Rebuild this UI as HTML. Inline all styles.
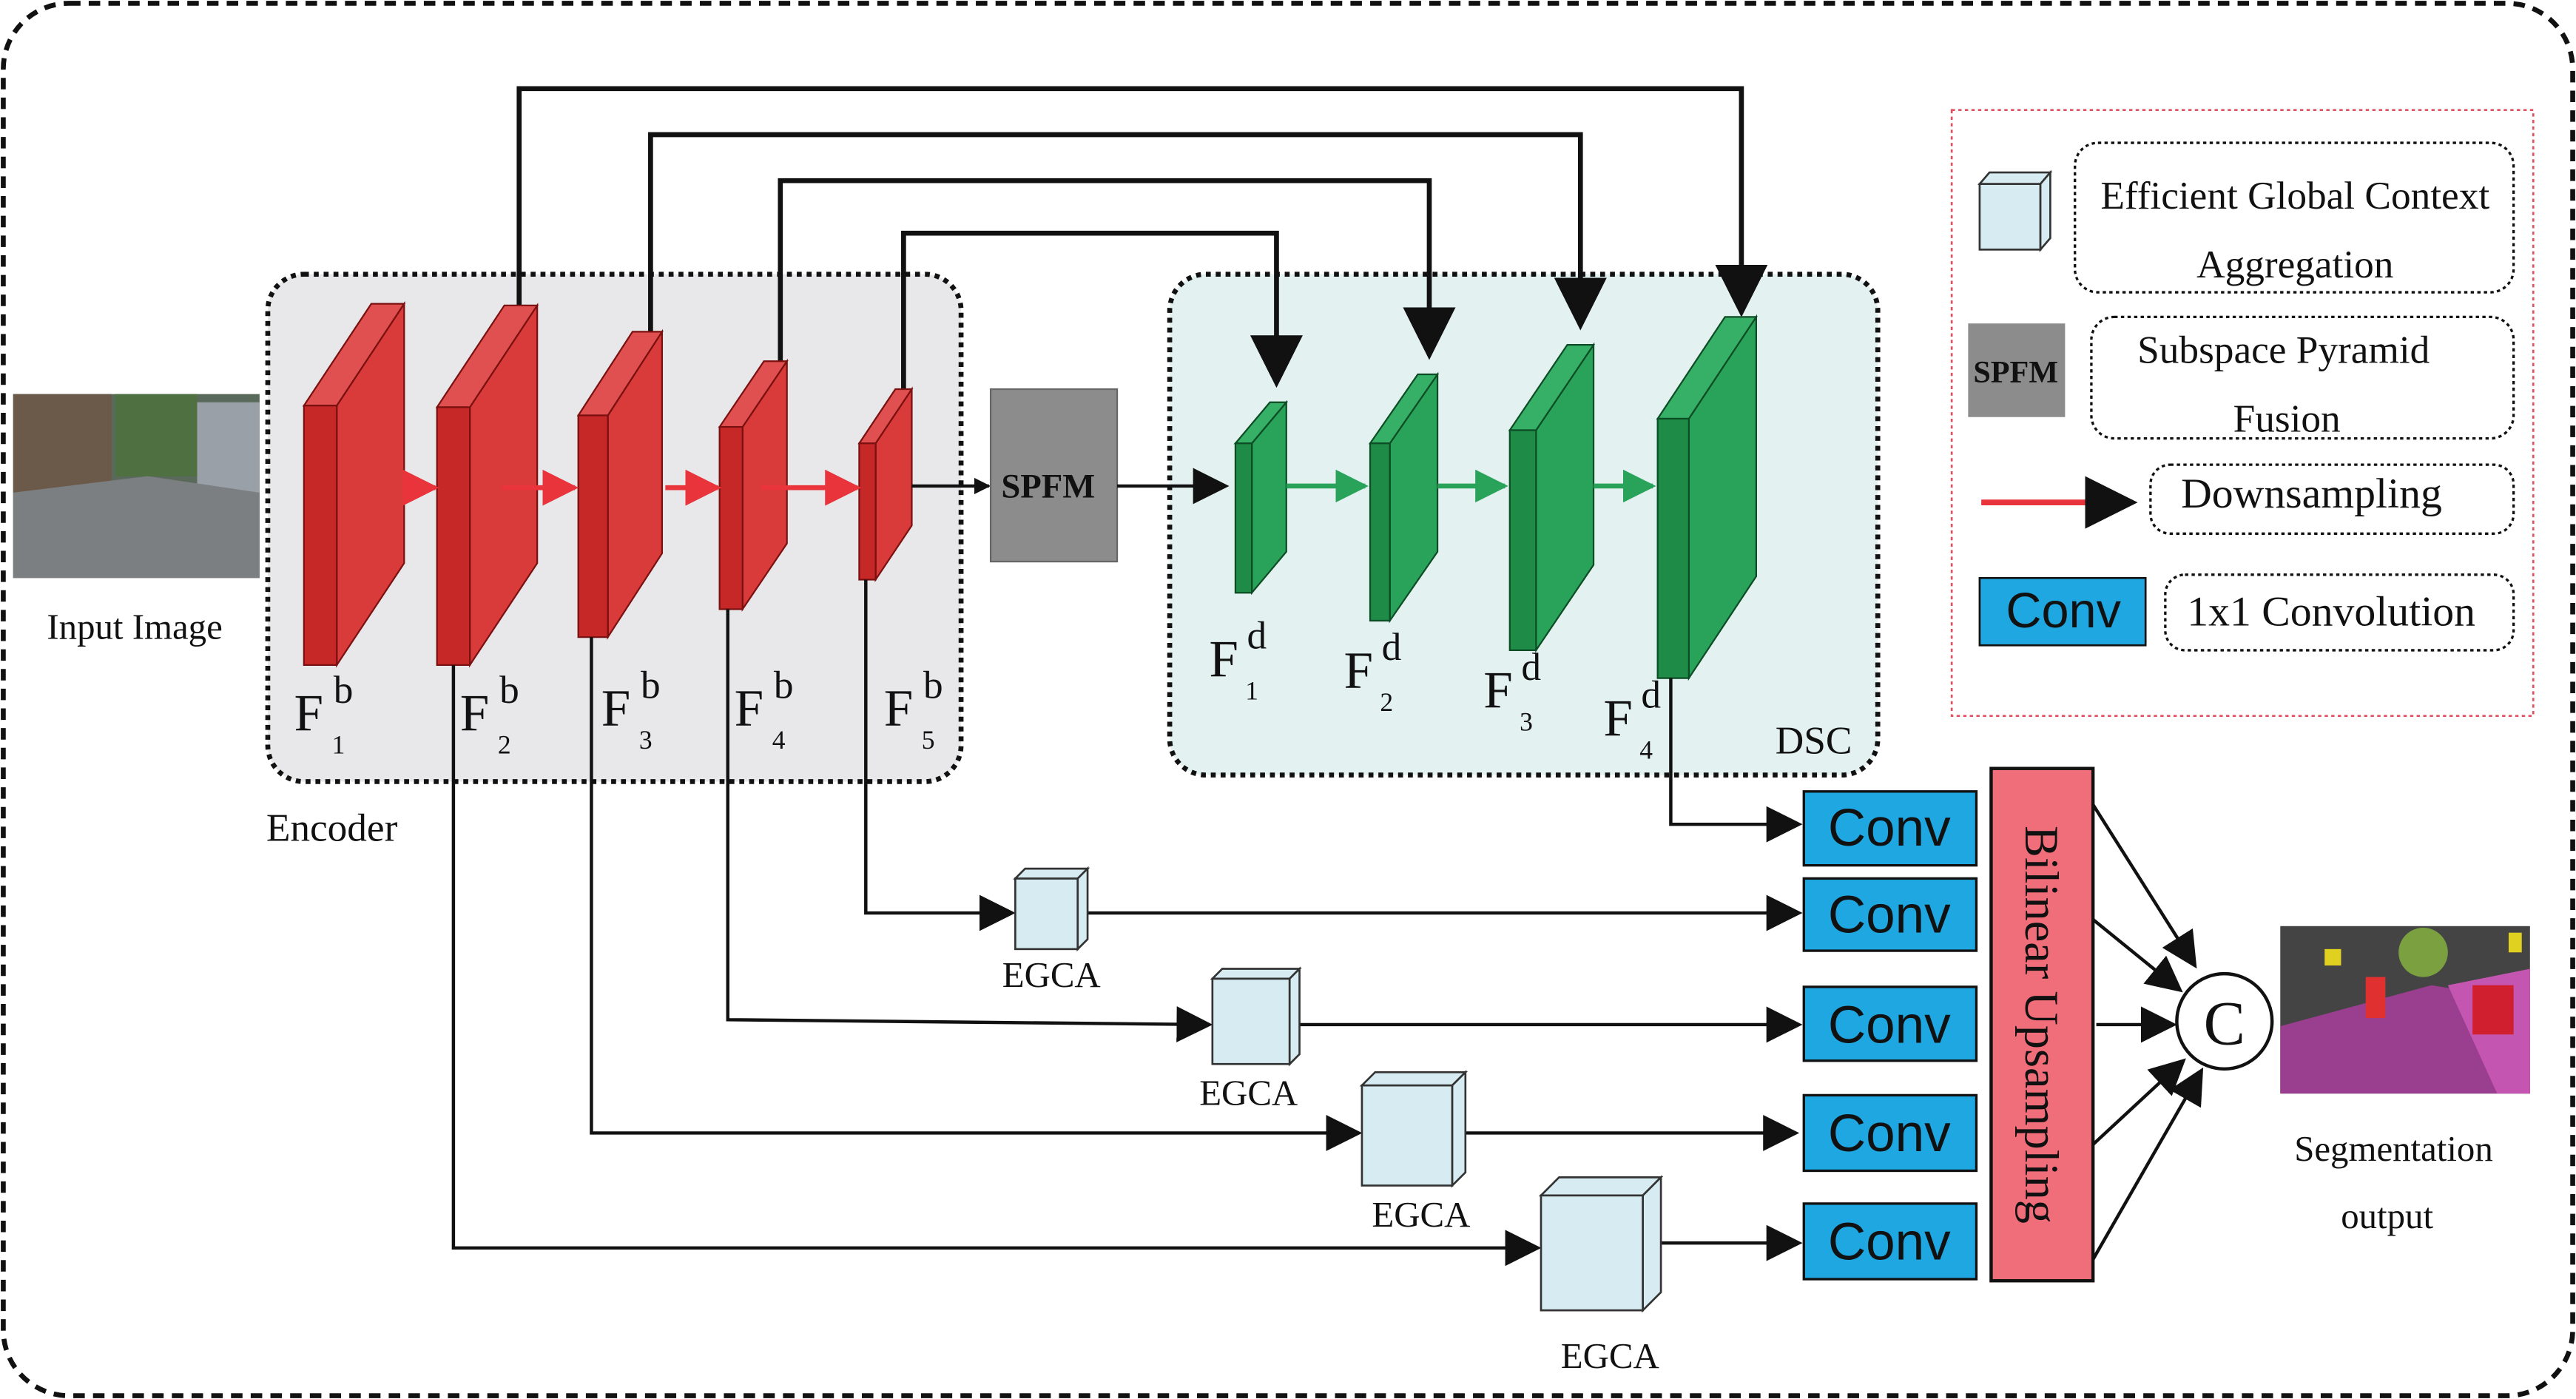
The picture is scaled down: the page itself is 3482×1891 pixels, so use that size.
<!DOCTYPE html>
<html><head><meta charset="utf-8"><style>
html,body{margin:0;padding:0;background:#fff;}
svg{display:block;}
text{font-family:"Liberation Serif",serif;fill:#111;}
.sans{font-family:"Liberation Sans",sans-serif;}
</style></head><body>
<svg width="3482" height="1891" viewBox="0 0 1568 852" preserveAspectRatio="none" xmlns="http://www.w3.org/2000/svg">
<defs>
<marker id="ab" markerWidth="10" markerHeight="10" refX="9" refY="5" orient="auto" markerUnits="userSpaceOnUse" viewBox="0 0 10 10"><path d="M0,0 L10,5 L0,10z" fill="#111"/></marker>
<marker id="abl" viewBox="0 0 10 10" refX="9" refY="5" markerWidth="22" markerHeight="22" orient="auto" markerUnits="userSpaceOnUse"><path d="M0,0 L10,5 L0,10z" fill="#111"/></marker>
<marker id="ar" viewBox="0 0 10 10" refX="9" refY="5" markerWidth="22" markerHeight="22" orient="auto" markerUnits="userSpaceOnUse"><path d="M0,0 L10,5 L0,10z" fill="#e8343a"/></marker>
<marker id="ag" viewBox="0 0 10 10" refX="9" refY="5" markerWidth="20" markerHeight="20" orient="auto" markerUnits="userSpaceOnUse"><path d="M0,0 L10,5 L0,10z" fill="#2aa35a"/></marker>
<marker id="abig" viewBox="0 0 10 10" refX="9" refY="5" markerWidth="32" markerHeight="32" orient="auto" markerUnits="userSpaceOnUse"><path d="M0,0 L10,5 L0,10z" fill="#111"/></marker>
</defs>
<rect x="2" y="2" width="1564" height="848" rx="40" fill="#fff" stroke="#111" stroke-width="3" stroke-dasharray="7,5"/>

<!-- input image -->
<rect x="8" y="240" width="150" height="112" fill="#5a6a5a"/>
<rect x="8" y="240" width="60" height="60" fill="#6b5a4a"/>
<rect x="70" y="240" width="50" height="50" fill="#4f7040"/>
<rect x="120" y="245" width="38" height="55" fill="#9aa0a8"/>
<polygon points="8,352 158,352 158,300 90,290 8,300" fill="#7c7f82"/>
<text x="82" y="389" font-size="22" text-anchor="middle">Input Image</text>

<!-- encoder box -->
<rect x="163" y="167" width="422" height="309" rx="22" fill="#e8e8ea" stroke="#111" stroke-width="3" stroke-dasharray="3,3"/>
<text x="202" y="512" font-size="24" text-anchor="middle">Encoder</text>

<!-- DSC box -->
<rect x="712" y="167" width="431" height="305" rx="22" fill="#e3f1f1" stroke="#111" stroke-width="3" stroke-dasharray="3,3"/>
<text x="1104" y="459" font-size="24" text-anchor="middle">DSC</text>

<!-- skip connections -->
<g stroke="#111" stroke-width="3" fill="none">
<polyline points="316,195 316,54 1060,54 1060,190" marker-end="url(#abig)"/>
<polyline points="396,210 396,82 962,82 962,198" marker-end="url(#abig)"/>
<polyline points="475,226 475,110 870,110 870,216" marker-end="url(#abig)"/>
<polyline points="550,245 550,142 777,142 777,233" marker-end="url(#abig)"/>
</g>

<!-- red blocks -->
<g stroke="#7a1010" stroke-width="1">
<g><polygon points="205,247 246,185 246,343 205,405" fill="#d93b3b"/><polygon points="185,247 226,185 246,185 205,247" fill="#e05050"/><rect x="185" y="247" width="20" height="158" fill="#c62828"/></g>
<g><polygon points="286,248 327,186 327,343 286,405" fill="#d93b3b"/><polygon points="266,248 307,186 327,186 286,248" fill="#e05050"/><rect x="266" y="248" width="20" height="157" fill="#c62828"/></g>
<g><polygon points="370,253 403,202 403,337 370,388" fill="#d93b3b"/><polygon points="352,253 385,202 403,202 370,253" fill="#e05050"/><rect x="352" y="253" width="18" height="135" fill="#c62828"/></g>
<g><polygon points="452,260 479,220 479,331 452,371" fill="#d93b3b"/><polygon points="438,260 465,220 479,220 452,260" fill="#e05050"/><rect x="438" y="260" width="14" height="111" fill="#c62828"/></g>
<g><polygon points="533,270 555,237 555,320 533,353" fill="#d93b3b"/><polygon points="523,270 545,237 555,237 533,270" fill="#e05050"/><rect x="523" y="270" width="10" height="83" fill="#c62828"/></g>
</g>
<g stroke="#e8343a" stroke-width="3">
<line x1="246" y1="297" x2="265" y2="297" marker-end="url(#ar)"/>
<line x1="305" y1="297" x2="350" y2="297" marker-end="url(#ar)"/>
<line x1="405" y1="297" x2="437" y2="297" marker-end="url(#ar)"/>
<line x1="463" y1="297" x2="522" y2="297" marker-end="url(#ar)"/>
</g>
<line x1="555" y1="296" x2="602" y2="296" stroke="#111" stroke-width="2" marker-end="url(#ab)"/>
<rect x="603" y="237" width="77" height="105" fill="#8c8c8c" stroke="#666"/>
<text x="638" y="303" font-size="21" font-weight="bold" text-anchor="middle">SPFM</text>
<line x1="680" y1="296" x2="746" y2="296" stroke="#111" stroke-width="2" marker-end="url(#abl)"/>

<!-- green blocks -->
<g stroke="#0d4d25" stroke-width="1">
<g><polygon points="762,270 783,245 783,336 762,361" fill="#2aa35a"/><polygon points="752,270 773,245 783,245 762,270" fill="#36b066"/><rect x="752" y="270" width="10" height="91" fill="#1e8c46"/></g>
<g><polygon points="846,270 875,228 875,336 846,378" fill="#2aa35a"/><polygon points="834,270 863,228 875,228 846,270" fill="#36b066"/><rect x="834" y="270" width="12" height="108" fill="#1e8c46"/></g>
<g><polygon points="935,262 970,210 970,344 935,396" fill="#2aa35a"/><polygon points="919,262 954,210 970,210 935,262" fill="#36b066"/><rect x="919" y="262" width="16" height="134" fill="#1e8c46"/></g>
<g><polygon points="1028,255 1069,193 1069,351 1028,413" fill="#2aa35a"/><polygon points="1009,255 1050,193 1069,193 1028,255" fill="#36b066"/><rect x="1009" y="255" width="19" height="158" fill="#1e8c46"/></g>
</g>
<g stroke="#2aa35a" stroke-width="3">
<line x1="783" y1="296" x2="831" y2="296" marker-end="url(#ag)"/>
<line x1="875" y1="296" x2="916" y2="296" marker-end="url(#ag)"/>
<line x1="970" y1="296" x2="1006" y2="296" marker-end="url(#ag)"/>
</g>

<!-- labels -->
<g font-size="32">
<text x="179" y="445">F</text><text x="203" y="428" font-size="24">b</text><text x="202" y="459" font-size="16">1</text>
<text x="280" y="445">F</text><text x="304" y="428" font-size="24">b</text><text x="303" y="459" font-size="16">2</text>
<text x="366" y="442">F</text><text x="390" y="425" font-size="24">b</text><text x="389" y="456" font-size="16">3</text>
<text x="447" y="442">F</text><text x="471" y="425" font-size="24">b</text><text x="470" y="456" font-size="16">4</text>
<text x="538" y="442">F</text><text x="562" y="425" font-size="24">b</text><text x="561" y="456" font-size="16">5</text>
<text x="736" y="412">F</text><text x="759" y="395" font-size="24">d</text><text x="758" y="426" font-size="16">1</text>
<text x="818" y="419">F</text><text x="841" y="402" font-size="24">d</text><text x="840" y="433" font-size="16">2</text>
<text x="903" y="431">F</text><text x="926" y="414" font-size="24">d</text><text x="925" y="445" font-size="16">3</text>
<text x="976" y="448">F</text><text x="999" y="431" font-size="24">d</text><text x="998" y="462" font-size="16">4</text>
</g>

<!-- bottom connections -->
<g stroke="#111" stroke-width="2" fill="none">
<polyline points="1017,413 1017,502 1095,502" marker-end="url(#abl)"/>
<polyline points="527,353 527,556 616,556" marker-end="url(#abl)"/>
<line x1="662" y1="556" x2="1095" y2="556" marker-end="url(#abl)"/>
<polyline points="443,371 443,621 736,624" marker-end="url(#abl)"/>
<line x1="791" y1="624" x2="1095" y2="624" marker-end="url(#abl)"/>
<polyline points="360,388 360,690 827,690" marker-end="url(#abl)"/>
<line x1="892" y1="690" x2="1093" y2="690" marker-end="url(#abl)"/>
<polyline points="276,405 276,760 936,760" marker-end="url(#abl)"/>
<line x1="1011" y1="757" x2="1095" y2="757" marker-end="url(#abl)"/>
</g>

<!-- cubes -->
<g stroke="#333" stroke-width="1.2" fill="#d6ecf2">
<g><rect x="618" y="535" width="38" height="43"/><polygon points="618,535 624,529 662,529 656,535"/><polygon points="656,535 662,529 662,572 656,578"/></g>
<g><rect x="738" y="596" width="47" height="52"/><polygon points="738,596 744,590 791,590 785,596"/><polygon points="785,596 791,590 791,642 785,648"/></g>
<g><rect x="829" y="661" width="55" height="61"/><polygon points="829,661 837,653 892,653 884,661"/><polygon points="884,661 892,653 892,714 884,722"/></g>
<g><rect x="938" y="728" width="62" height="70"/><polygon points="938,728 949,717 1011,717 1000,728"/><polygon points="1000,728 1011,717 1011,787 1000,798"/></g>
</g>
<g font-size="22" text-anchor="middle">
<text x="640" y="601">EGCA</text><text x="760" y="673">EGCA</text><text x="865" y="747">EGCA</text><text x="980" y="833">EGCA</text>
</g>

<!-- conv boxes -->
<g fill="#1ea7e1" stroke="#111" stroke-width="1.5">
<rect x="1098" y="482" width="105" height="45"/>
<rect x="1098" y="535" width="105" height="44"/>
<rect x="1098" y="601" width="105" height="45"/>
<rect x="1098" y="667" width="105" height="46"/>
<rect x="1098" y="733" width="105" height="46"/>
</g>
<g class="sans" font-size="32" text-anchor="middle">
<text class="sans" x="1150" y="515">Conv</text>
<text class="sans" x="1150" y="568">Conv</text>
<text class="sans" x="1150" y="635">Conv</text>
<text class="sans" x="1150" y="701">Conv</text>
<text class="sans" x="1150" y="767">Conv</text>
</g>

<!-- bilinear -->
<rect x="1212" y="468" width="62" height="312" fill="#f06e7a" stroke="#111" stroke-width="2"/>
<text x="0" y="0" font-size="29" text-anchor="middle" transform="translate(1233,624) rotate(90)">Bilinear Upsampling</text>
<g stroke="#111" stroke-width="2">
<line x1="1274" y1="490" x2="1336" y2="588" marker-end="url(#abl)"/>
<line x1="1274" y1="560" x2="1327" y2="603" marker-end="url(#abl)"/>
<line x1="1276" y1="624" x2="1323" y2="624" marker-end="url(#abl)"/>
<line x1="1274" y1="697" x2="1329" y2="646" marker-end="url(#abl)"/>
<line x1="1274" y1="767" x2="1340" y2="652" marker-end="url(#abl)"/>
</g>
<circle cx="1354" cy="622" r="29" fill="#fff" stroke="#111" stroke-width="2"/>
<text x="1354" y="636" font-size="38" text-anchor="middle">C</text>

<!-- segmentation -->
<rect x="1388" y="564" width="152" height="102" fill="#444"/>
<polygon points="1388,625 1480,600 1540,610 1540,666 1388,666" fill="#9a3f8f"/>
<polygon points="1490,600 1540,590 1540,666 1520,666" fill="#c455b0"/>
<circle cx="1475" cy="580" r="15" fill="#7aa040"/>
<rect x="1440" y="595" width="12" height="25" fill="#e03030"/>
<rect x="1505" y="600" width="25" height="30" fill="#d02030"/>
<rect x="1415" y="578" width="10" height="10" fill="#e0d020"/>
<rect x="1527" y="568" width="8" height="12" fill="#e0d020"/>
<text x="1457" y="707" font-size="22" text-anchor="middle">Segmentation</text>
<text x="1453" y="748" font-size="22" text-anchor="middle">output</text>

<!-- legend -->
<rect x="1188" y="67" width="354" height="369" fill="none" stroke="#e05060" stroke-width="1.2" stroke-dasharray="2,2"/>
<g stroke="#333" stroke-width="1.2" fill="#d6ecf2">
<rect x="1205" y="112" width="37" height="40"/><polygon points="1205,112 1211,105 1248,105 1242,112"/><polygon points="1242,112 1248,105 1248,145 1242,152"/>
</g>
<g fill="none" stroke="#111" stroke-width="1.5" stroke-dasharray="2,2">
<rect x="1263" y="87" width="267" height="91" rx="14"/>
<rect x="1273" y="193" width="257" height="74" rx="14"/>
<rect x="1309" y="283" width="221" height="42" rx="12"/>
<rect x="1318" y="350" width="212" height="46" rx="12"/>
</g>
<text x="1397" y="127" font-size="24" text-anchor="middle">Efficient Global Context</text>
<text x="1397" y="169" font-size="24" text-anchor="middle">Aggregation</text>
<rect x="1198" y="197" width="59" height="57" fill="#8c8c8c"/>
<text x="1227" y="233" font-size="19" font-weight="bold" text-anchor="middle">SPFM</text>
<text x="1390" y="221" font-size="24" text-anchor="middle">Subspace Pyramid</text>
<text x="1392" y="263" font-size="24" text-anchor="middle">Fusion</text>
<line x1="1206" y1="306" x2="1298" y2="306" stroke="#e8343a" stroke-width="3.5" marker-end="url(#abig)"/>
<text x="1407" y="309" font-size="26" text-anchor="middle">Downsampling</text>
<rect x="1205" y="352" width="101" height="41" fill="#1ea7e1" stroke="#111" stroke-width="1.2"/>
<text class="sans" x="1256" y="382" font-size="30" text-anchor="middle">Conv</text>
<text x="1419" y="381" font-size="26" text-anchor="middle">1x1 Convolution</text>
</svg>
</body></html>
